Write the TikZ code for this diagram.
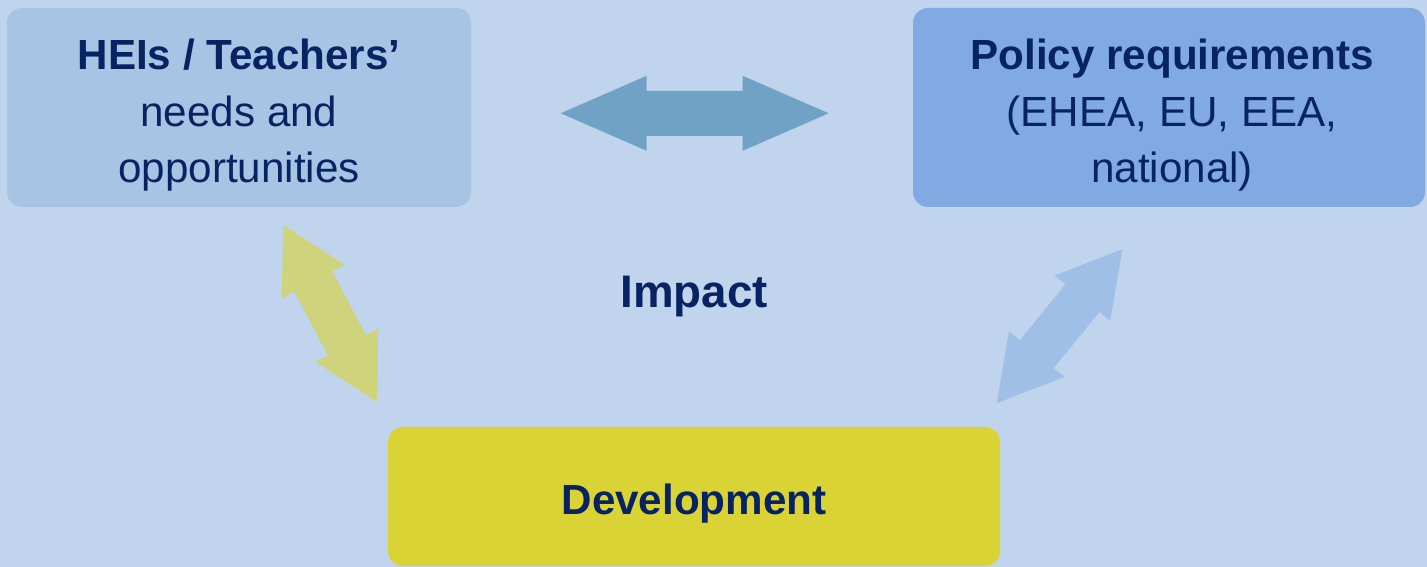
\documentclass[tikz,border=0pt]{standalone}
\usepackage{fontspec}
\setmainfont{Liberation Sans}
\usepackage{tikz}
\usetikzlibrary{positioning}

\definecolor{sfondo}{RGB}{192,212,238}
\definecolor{boxhei}{RGB}{168,196,228}
\definecolor{boxpol}{RGB}{128,170,225}
\definecolor{boxdev}{RGB}{217,211,54}
\definecolor{frecciaH}{RGB}{112,162,198}
\definecolor{frecciaG}{RGB}{207,211,123}
\definecolor{frecciaB}{RGB}{160,191,231}
\definecolor{testo}{RGB}{8,35,98}

\tikzset{
	riquadro/.style={rounded corners=0.15cm, inner sep=0pt},
	scritta/.style={align=center, text=testo, font=\fontsize{12}{16.1}\selectfont},
	titolo/.style={text=testo, font=\fontsize{13}{16}\selectfont\bfseries}
}

%freccia doppia: colore, punta, angolo, lunghezza, testa, semilarghezza testa, semilarghezza asta
\newcommand{\frecciadoppia}[7]{%
	\fill [#1, shift={#2}, rotate=#3] (0,0) -- (#5,#6) -- (#5,#7) -- ({#4-#5},#7)
		-- ({#4-#5},#6) -- (#4,0) -- ({#4-#5},-#6) -- ({#4-#5},-#7)
		-- (#5,-#7) -- (#5,-#6) -- cycle;}

\begin{document}
\begin{tikzpicture}
	%\draw [help lines] (0,-6) grid (15,0);
	\fill [sfondo] (0,0) rectangle (14.27,-5.67);
	\useasboundingbox (0,0) rectangle (14.27,-5.67);
	%Riquadri
	\node [riquadro, fill=boxhei, minimum width=4.64cm, minimum height=1.99cm] (hei) at (2.39,-1.075) {};
	\node [riquadro, fill=boxpol, minimum width=5.12cm, minimum height=1.99cm] (policy) at (11.69,-1.075) {};
	\node [riquadro, fill=boxdev, minimum width=6.12cm, minimum height=1.39cm] (dev) at (6.94,-4.965) {};
	%Testi
	\node [scritta, yshift=-0.08cm] (heitxt) at (hei.center)
		{\textbf{HEIs / Teachers’}\\needs and\\opportunities};
	\node [scritta, xshift=0.03cm, yshift=-0.08cm] (policytxt) at (policy.center)
		{\textbf{Policy requirements}\\(EHEA, EU, EEA,\\national)};
	\node [scritta, yshift=-0.07cm] (devtxt) at (dev.center) {\textbf{Development}};
	%Centro
	\node [titolo] (impact) at (6.94,-2.97) {Impact};
	%Frecce
	\coordinate (fh) at (5.607,-1.133);
	\coordinate (fg) at (2.833,-2.25);
	\coordinate (fb) at (9.967,-4.033);
	\frecciadoppia{frecciaH}{(fh)}{0}{2.68}{0.86}{0.375}{0.225}
	\frecciadoppia{frecciaG}{(fg)}{-62.14}{2.0}{0.64}{0.356}{0.215}
	\frecciadoppia{frecciaB}{(fb)}{50.8}{1.99}{0.634}{0.358}{0.219}
\end{tikzpicture}
\end{document}
